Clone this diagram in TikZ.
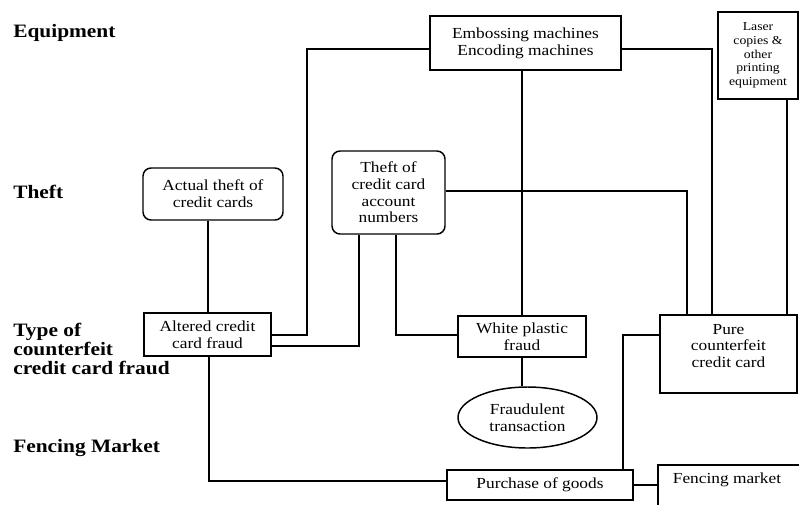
\documentclass[tikz,border=0pt]{standalone}
\usepackage{fontspec}
\setmainfont[FakeStretch=1.13]{Liberation Serif}
\usetikzlibrary{shapes.geometric}
\begin{document}
\begin{tikzpicture}[x=0.75pt,y=-0.75pt,
  bodyfont/.style={font=\fontsize{11.5}{12.5}\selectfont},
  plainbox/.style={draw,line width=1.1pt,inner sep=0pt,align=center,bodyfont},
  roundbox/.style={plainbox,rounded corners=6pt},
  txt/.style={inner sep=0pt,align=center,bodyfont},
  lab/.style={inner sep=0pt,anchor=west,align=left,font=\bfseries\fontsize{14.2}{14.3}\selectfont},
  conn/.style={line width=1pt}
]
\useasboundingbox (0,0) rectangle (799,504);

% row labels
\node[lab] (lequip) at (13,33) {Equipment};
\node[lab] (ltheft) at (13,192) {Theft};
\node[lab] (ltype) at (13,349) {Type of\\counterfeit\\credit card fraud};
\node[lab] (lfence) at (13,448) {Fencing Market};

% boxes
\node[plainbox,minimum width={191*0.75},minimum height={54*0.75}] (emb) at (525.5,43) {Embossing machines\\Encoding machines};
\node[plainbox,minimum width={80*0.75},minimum height={87*0.75},font=\fontsize{9.1}{10.3}\selectfont] (laser) at (758,55.5) {Laser\\copies \&\\other\\printing\\equipment};
\node[roundbox,minimum width={140*0.75},minimum height={52*0.75}] (actual) at (213,194) {Actual theft of\\credit cards};
\node[roundbox,minimum width={113*0.75},minimum height={83*0.75}] (acct) at (388.5,192.5) {Theft of\\credit card\\account\\numbers};
\node[plainbox,minimum width={127*0.75},minimum height={43*0.75}] (altered) at (207.5,334.5) {Altered credit\\card fraud};
\node[plainbox,minimum width={128*0.75},minimum height={41*0.75}] (white) at (522,336.5) {White plastic\\fraud};
\node[plainbox,minimum width={137*0.75},minimum height={78*0.75}] (pure) at (728.5,354) {};
\node[txt] (puretext) at (728.5,346) {Pure\\counterfeit\\credit card};
\node[plainbox,ellipse,minimum width={139*0.75},minimum height={61*0.75}] (fraud) at (527.5,417.5) {Fraudulent\\transaction};
\node[plainbox,minimum width={186*0.75},minimum height={30*0.75}] (purchase) at (540,485) {Purchase of goods};
\node[plainbox,minimum width={144*0.75},minimum height={41*0.75}] (fencing) at (730,485.5) {};
\node[txt] (fencetext) at (727,480) {Fencing market};

% bend points
\coordinate (c1) at (307,49);
\coordinate (c2) at (307,335);
\coordinate (c3) at (712,49);
\coordinate (c4) at (787,0);
\coordinate (c5) at (687,191);
\coordinate (c6) at (359,346);
\coordinate (c7) at (396,335);
\coordinate (c8) at (209,481);
\coordinate (c9) at (623,335);
\coordinate (c10) at (208,0);

% connectors
\draw[conn] (emb.west |- c1) -- (c1) -- (c2) -- (altered.east |- c2);
\draw[conn] (emb.east |- c3) -- (c3) -- (pure.north -| c3);
\draw[conn] (white.north |- emb.south) -- (white.north);
\draw[conn] (laser.south -| c4) -- (pure.north -| c4);
\draw[conn] (actual.south -| c10) -- (altered.north -| c10);
\draw[conn] (acct.east |- c5) -- (c5) -- (pure.north -| c5);
\draw[conn] (acct.south -| c6) -- (c6) -- (altered.east |- c6);
\draw[conn] (acct.south -| c7) -- (c7) -- (white.west |- c7);
\draw[conn] (white.south) -- (white.south |- fraud.north);
\draw[conn] (altered.south -| c8) -- (c8) -- (purchase.west |- c8);
\draw[conn] (purchase.north -| c9) -- (c9) -- (pure.west |- c9);
\draw[conn] (purchase.east) -- (fencing.west |- purchase.east);
\end{tikzpicture}
\end{document}
